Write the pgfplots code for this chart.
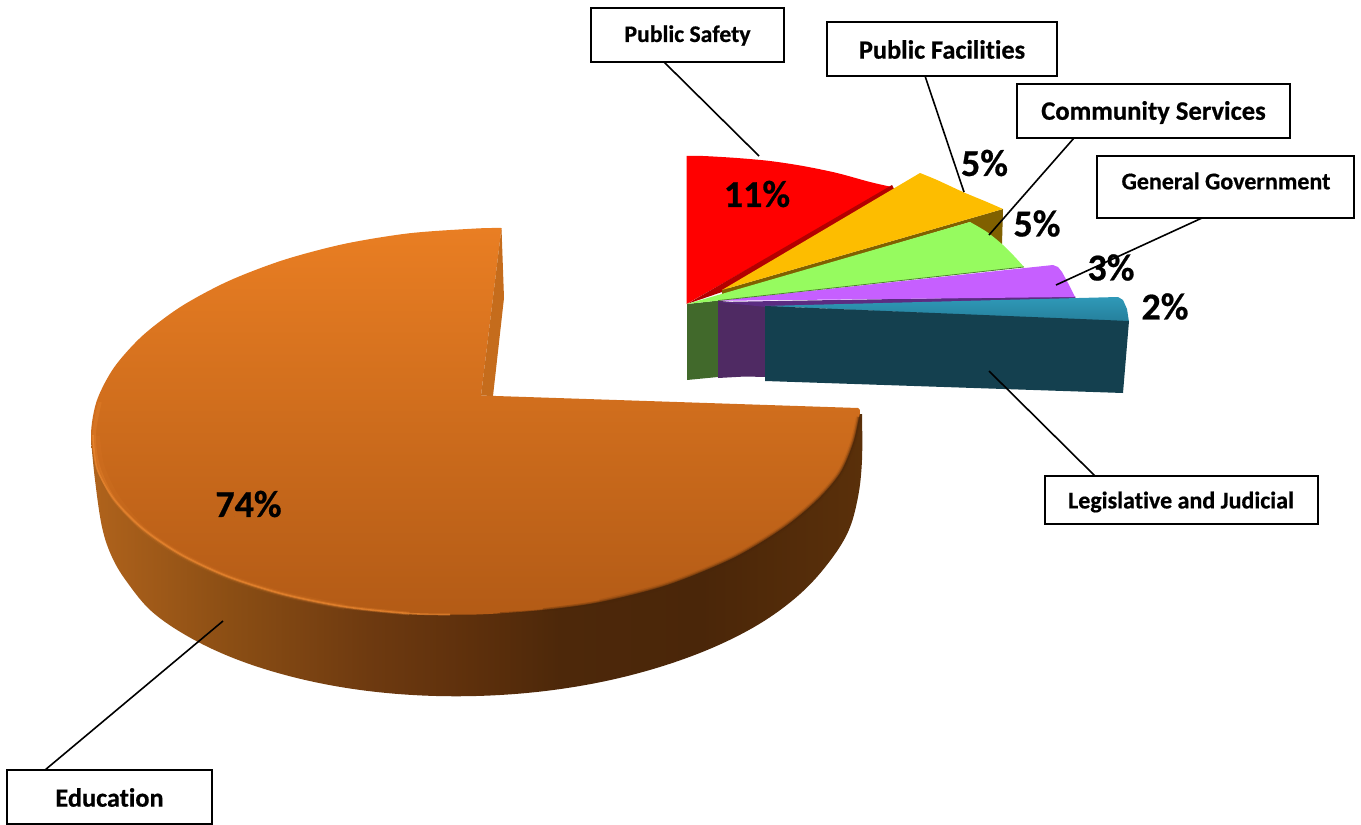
\documentclass[border=0pt]{standalone}
\usepackage{pgfplots}
\pgfplotsset{compat=1.18}
\usepackage{fontspec}
\setmainfont{Carlito}[Ligatures=NoCommon,BoldFeatures={FakeBold=0.6}]
\definecolor{rimlight}{HTML}{E98630}
\definecolor{c1}{HTML}{B0631C}
\definecolor{c2}{HTML}{8B4E14}
\definecolor{c3}{HTML}{6E3A10}
\definecolor{c4}{HTML}{5E300C}
\definecolor{c5}{HTML}{4D280A}
\definecolor{c6}{HTML}{4A2609}
\definecolor{c7}{HTML}{5A300A}
\definecolor{eduTop}{HTML}{E97E23}
\definecolor{eduBottom}{HTML}{B35B16}
\definecolor{eduCut}{HTML}{C56C1C}
\definecolor{safetyDark}{HTML}{B30000}
\definecolor{facilTop}{HTML}{FDBD00}
\definecolor{facilDark}{HTML}{806000}
\definecolor{commTop}{HTML}{96FB5F}
\definecolor{commFront}{HTML}{41692B}
\definecolor{commEdge}{HTML}{4E7F30}
\definecolor{govTop}{HTML}{C65FFF}
\definecolor{govFront}{HTML}{4F2A63}
\definecolor{govEdge}{HTML}{5B2C82}
\definecolor{legTopA}{HTML}{2F99B8}
\definecolor{legTopB}{HTML}{257F9B}
\definecolor{legFront}{HTML}{14404F}
% wall of the large sector, dark towards the right
\pgfdeclarehorizontalshading{educationwall}{100bp}{
  color(0bp)=(c1); color(25bp)=(c1); color(34bp)=(c2); color(43bp)=(c3);
  color(49.6bp)=(c4); color(55.4bp)=(c5); color(64.5bp)=(c6);
  color(75bp)=(c7); color(100bp)=(c7)}
\newcommand{\lbl}[4]{\node[font=\fontsize{#3}{#3}\selectfont\bfseries,inner sep=0pt,anchor=center] at (axis cs:#1,#2) {#4};}
\begin{document}
\begin{tikzpicture}
\begin{axis}[
  scale only axis, width=1361pt, height=825pt,
  xmin=0, xmax=1361, ymin=0, ymax=825, y dir=reverse,
  hide axis, clip=false]

% Education: outer wall
\addplot[draw=none, shading=educationwall, smooth, tension=0.6] coordinates {
 (91,440) (95,480) (102,527) (112,557) (127,582) (152,611.7) (189.5,637.3)
 (235.5,658.9) (289,676) (348,688.2) (411,694.9) (476,696) (541,691.5)
 (604,681.4) (663,666) (716.5,646) (762.5,622) (800,594) (827.6,564)
 (848,532) (858,497) (862,460) (862,414) } -- cycle;

% Education: top face
\addplot[draw=none, top color=eduTop, bottom color=eduBottom, smooth] coordinates {
 (501.5,228) (476,228.5) (409,233.3) (344.3,243.9) (283.5,260) (228.4,281.1)
 (181.1,306.5) (142.6,335.6) (114.1,367.4) (96.8,400.7) (91,435) (96.8,467.8)
 (114.1,499.4) (142.6,528.6) (181.1,554.7) (228.4,576.8) (283.5,594.3)
 (344.3,606.7) (409,613.5) (476,614.5) (543,609.9) (600,602) (667,585)
 (733,558) (783,528) (817,500) (840,473) (853,443)
 (859,417) (860.5,411) (858,408) } -- (axis cs:481,395.5) -- cycle;

% Education: cut face behind the notch
\addplot[draw=none, fill=eduCut] coordinates {
 (501.5,228) (504,298) (493,396) (481,395.5) } -- cycle;

% Education: soft dark seam where the top meets the wall
\addplot[c6, line width=6pt, opacity=0.10, smooth] coordinates {
 (600,602) (667,585) (733,558) (783,528) (817,500) (840,473) (853,443) (859,417) };
\addplot[c6, line width=3.5pt, opacity=0.25, smooth] coordinates {
 (543,609.9) (600,602) (667,585) (733,558) (783,528) (817,500) (840,473) (853,443) (859,417) };
\addplot[c6, line width=1.5pt, opacity=0.35, smooth] coordinates {
 (500,613) (543,609.9) (600,602) (667,585) (733,558) (783,528) (817,500) (840,473) (853,443) (859,417) };

% Education: soft highlight along the rim, drawn a little inside the edge at the far left
\addplot[rimlight, line width=6pt, opacity=0.10, smooth] coordinates {
 (97,436) (101,465) (116,497) (142.6,528.6) (181.1,554.7) (228.4,576.8)
 (283.5,594.3) (344.3,606.7) };
\addplot[rimlight, line width=3.5pt, opacity=0.30, smooth] coordinates {
 (100,402) (94,435) (98.5,467) (114.1,499.4) (142.6,528.6) (181.1,554.7) (228.4,576.8)
 (283.5,594.3) (344.3,606.7) (409,613.5) };
\addplot[rimlight, line width=1.6pt, opacity=0.75, smooth] coordinates {
 (93,435) (96.8,467.8) (114.1,499.4) (142.6,528.6) (181.1,554.7) (228.4,576.8)
 (283.5,594.3) (344.3,606.7) (409,613.5) (450,614.5) };

% Public Safety
\addplot[draw=none, fill=red, smooth] coordinates {
 (686.5,156) (703,156) (737,158) (770,161) (803,166) (837,173) (870,182) (892,187) }
 -- (axis cs:686.5,304) -- cycle;
\addplot[draw=none, fill=safetyDark] coordinates {
 (892,185) (894,189) (722,292) (687,304) } -- cycle;

% Public Facilities
\addplot[draw=none, fill=facilDark] coordinates {
 (1003,209) (1002,244) (988,240) (970,222) (722,295) (722,290) } -- cycle;
\addplot[draw=none, fill=facilTop, smooth] coordinates {
 (920,173) (937,180) (963,192) (987,202) (1003,209) }
 -- (axis cs:722,290) -- cycle;

% Community Services
\addplot[draw=none, fill=commFront] coordinates {
 (687,304) (719,300.5) (718,377) (687,380) } -- cycle;
\addplot[draw=none, fill=commTop, smooth] coordinates {
 (970,222) (987,232) (1003,245) (1014,256) (1024,267) }
 -- (axis cs:687,304) -- cycle;

% General Government
\addplot[draw=none, fill=govFront] coordinates {
 (718,300.8) (766,305) (766,377) (745,376.5) (718,378) } -- cycle;
\addplot[draw=none, fill=govEdge] coordinates {
 (1075,296) (1076,300) (766,307) (718,302) } -- cycle;
\addplot[draw=none, fill=govTop] coordinates {
 (718,300.8) (1053,265) (1058,267) (1062,272) (1068,283) (1075,297) } -- cycle;
\addplot[commEdge, line width=0.8pt] coordinates { (1024,267) (718,300.6) };

% Legislative and Judicial
\addplot[draw=none, top color=legTopA, bottom color=legTopB] coordinates {
 (765,306) (1118,297) (1123,300) (1127,309) (1129,322) } -- cycle;
\addplot[draw=none, fill=legFront] coordinates {
 (765,306) (1129,321) (1123,393) (765,381) } -- cycle;

% Leader lines
\addplot[black, line width=1.6pt] coordinates { (664,62) (759,156) };
\addplot[black, line width=1.6pt] coordinates { (925,76) (964,192) };
\addplot[black, line width=1.6pt] coordinates { (1074,138) (989,235) };
\addplot[black, line width=1.6pt] coordinates { (1202,218) (1056,285) };
\addplot[black, line width=1.6pt] coordinates { (1095,476) (989,371) };
\addplot[black, line width=1.6pt] coordinates { (45,770) (223,621) };

% Label boxes
\addplot[black, line width=2pt, fill=white] coordinates { (591,8) (784,8) (784,62) (591,62) } -- cycle;
\addplot[black, line width=2pt, fill=white] coordinates { (827,22) (1057,22) (1057,76) (827,76) } -- cycle;
\addplot[black, line width=2pt, fill=white] coordinates { (1017,84) (1290,84) (1290,138) (1017,138) } -- cycle;
\addplot[black, line width=2pt, fill=white] coordinates { (1097,156) (1354,156) (1354,218) (1097,218) } -- cycle;
\addplot[black, line width=2pt, fill=white] coordinates { (1045,476) (1318,476) (1318,524) (1045,524) } -- cycle;
\addplot[black, line width=2pt, fill=white] coordinates { (7,770) (212,770) (212,824) (7,824) } -- cycle;

% Category names
\lbl{687.5}{35.5}{23.7}{Public Safety}
\lbl{942}{49.5}{26.3}{Public Facilities}
\lbl{1153.5}{112.5}{26.6}{Community Services}
\lbl{1226}{181}{24}{General Government}
\lbl{1181}{502}{24}{Legislative and Judicial}
\lbl{109.5}{797.5}{26.3}{Education}

% Shares
\lbl{248.5}{504}{38}{74\%}
\lbl{757}{194}{38}{11\%}
\lbl{984.5}{163}{38}{5\%}
\lbl{1037}{223.5}{38}{5\%}
\lbl{1111}{267.5}{38}{3\%}
\lbl{1165}{306.5}{38}{2\%}
\end{axis}
\pgfresetboundingbox
\path[use as bounding box] (current axis.south west) rectangle (current axis.north east);
\end{tikzpicture}
\end{document}
